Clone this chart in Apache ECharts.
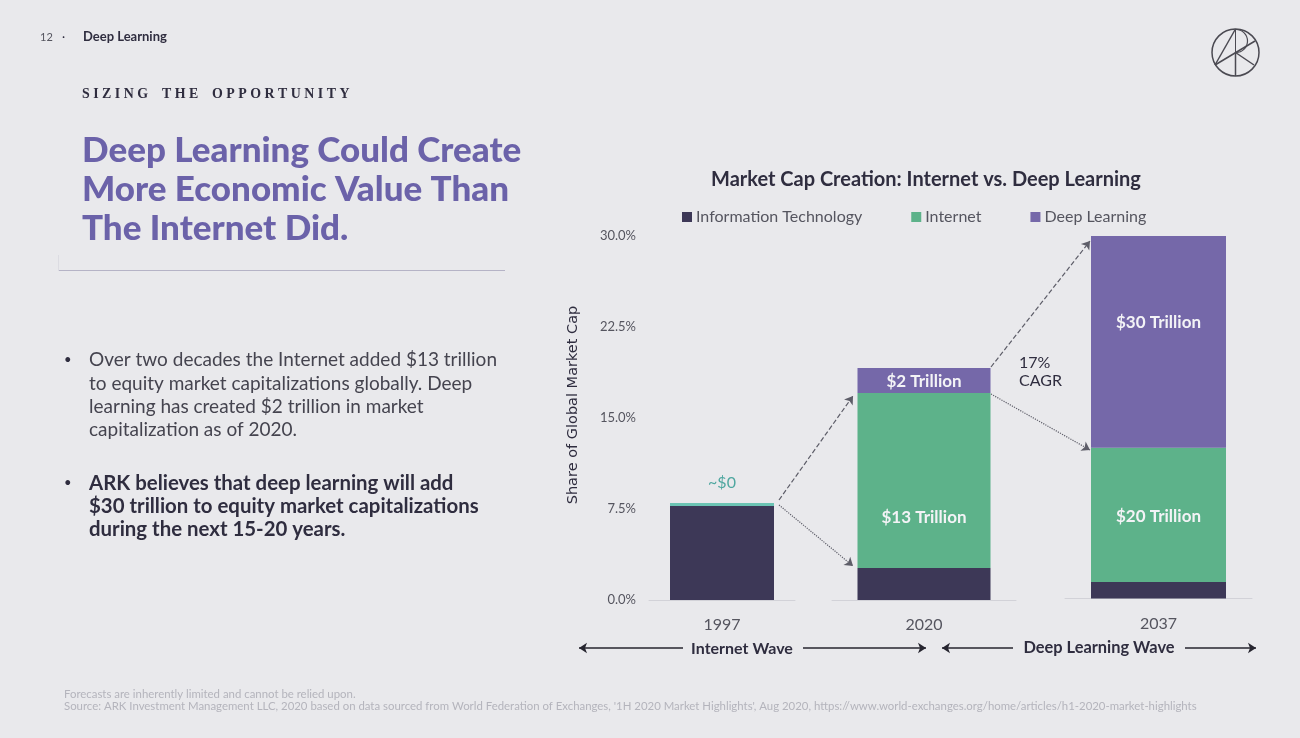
<!DOCTYPE html>
<html>
<head>
<meta charset="utf-8">
<title>Deep Learning</title>
<script src="https://cdn.jsdelivr.net/npm/echarts@6/dist/echarts.min.js"></script>
<style>
  html, body { margin: 0; padding: 0; background: #e9e9ec; }
  #chart { width: 1300px; height: 738px; }
</style>
</head>
<body>
<div id="chart"></div>
<script>
// chart values, share of global market cap (%)
const categories = ['1997', '2020', '2037']
const infoTech = [7.75, 2.64, 1.37]
const internet = [0.25, 14.42, 11.1]
const deepLearning = [0, 2.06, 17.54]
const internetLabels = ['~$0', '$13 Trillion', '$20 Trillion']
const deepLearningLabels = ['', '$2 Trillion', '$30 Trillion']
const yTicks = [0, 7.5, 15, 22.5, 30]

const font = 'Lato'
const colors = { it: '#3d3857', net: '#5db28a', dl: '#7568a9', thin: '#6cc4b4', ink: '#2f2d3f', grey: '#55555f' }

// one grid per column: the source has a different bar width and baseline for each
const grids = [
  { left: 649, width: 146, top: 236, height: 364 },
  { left: 832, width: 184, top: 236, height: 364 },
  { left: 1065, width: 187, top: 236, height: 362.5 }
]
const barWidths = [104, 133, 135]
const labelOffsets = { net: [null, [0, 37], [0, 2]], dl: [null, [0, 1], [0, -19]] }

function arrow(x1, y1, x2, y2, type, symbol) {
  return [
    { x: x1, y: y1, symbol: symbol[0], lineStyle: { type: type } },
    { x: x2, y: y2, symbol: symbol[1] }
  ]
}

const end = ['none', 'arrow']
const arrows = [
  arrow(779, 500, 853, 396, 'dashed', end),
  arrow(779, 505, 853, 566, 'dotted', end),
  arrow(991, 367, 1090, 241, 'dashed', end),
  arrow(991, 394, 1090, 450, 'dotted', end)
]
const waveArrows = [
  arrow(683, 648, 579, 648, 'solid', end),
  arrow(803, 648, 926, 648, 'solid', end),
  arrow(1013, 648, 942, 648, 'solid', end),
  arrow(1185, 648, 1256, 648, 'solid', end)
]

let xAxes = [], yAxes = [], series = []
categories.forEach((cat, i) => {
  xAxes.push({
    type: 'category',
    gridIndex: i,
    data: [cat],
    axisTick: { show: false },
    axisLine: { lineStyle: { color: '#d2d2d8', width: 1 } },
    axisLabel: { color: colors.grey, fontFamily: font, fontSize: 16, margin: 17 }
  })
  yAxes.push({
    type: 'value',
    gridIndex: i,
    min: yTicks[0],
    max: yTicks[yTicks.length - 1],
    interval: yTicks[1],
    show: i === 0,
    name: i === 0 ? 'Share of Global Market Cap' : '',
    nameLocation: 'middle',
    nameGap: 68,
    nameTextStyle: { color: colors.ink, fontFamily: 'DejaVu Sans', fontSize: 14.5, padding: [0, 0, 0, 26] },
    axisLine: { show: false },
    axisTick: { show: false },
    splitLine: { show: false },
    axisLabel: {
      color: colors.grey,
      fontFamily: font,
      fontSize: 13,
      margin: 13,
      formatter: v => v.toFixed(1) + '%'
    }
  })
  const barLabel = (text, offset, color) => ({
    show: !!text,
    formatter: text,
    position: 'inside',
    offset: offset || [0, 0],
    color: color || '#f3f3f6',
    fontFamily: font,
    fontSize: 17,
    fontWeight: 'bold'
  })
  series.push({
    name: 'Information Technology',
    type: 'bar',
    stack: 'col' + i,
    xAxisIndex: i,
    yAxisIndex: i,
    barWidth: barWidths[i],
    itemStyle: { color: colors.it },
    data: [infoTech[i]]
  })
  series.push({
    name: 'Internet',
    type: 'bar',
    stack: 'col' + i,
    xAxisIndex: i,
    yAxisIndex: i,
    barWidth: barWidths[i],
    itemStyle: { color: colors.net },
    data: [{
      value: internet[i],
      itemStyle: i === 0 ? { color: colors.thin } : undefined,
      label: i === 0
        ? { show: true, formatter: internetLabels[i], position: 'top', distance: 12, color: '#4fa7a0', fontFamily: font, fontSize: 16 }
        : barLabel(internetLabels[i], labelOffsets.net[i])
    }]
  })
  series.push({
    name: 'Deep Learning',
    type: 'bar',
    stack: 'col' + i,
    xAxisIndex: i,
    yAxisIndex: i,
    barWidth: barWidths[i],
    itemStyle: { color: colors.dl },
    clip: false,
    data: [{ value: deepLearning[i], label: barLabel(deepLearningLabels[i], labelOffsets.dl[i]) }],
    markLine: i !== 1 ? undefined : {
      silent: true,
      animation: false,
      symbolSize: 8,
      label: { show: false },
      lineStyle: { color: '#5d5d68', width: 1.2 },
      data: arrows
    }
  })
})

// wave arrows under the axis, on a series of their own
series.push({
  type: 'line',
  xAxisIndex: 0,
  yAxisIndex: 0,
  data: [],
  clip: false,
  markLine: {
    silent: true,
    animation: false,
    symbolSize: 8,
    label: { show: false },
    lineStyle: { color: '#26252f', width: 1.5 },
    data: waveArrows
  }
})

const text = (x, y, str, style) => ({
  type: 'text',
  x: x,
  y: y,
  silent: true,
  style: Object.assign({ text: str, fontFamily: font, fill: colors.ink, verticalAlign: 'middle' }, style)
})
const line = (x1, y1, x2, y2, stroke, width) => ({
  type: 'line',
  silent: true,
  shape: { x1: x1, y1: y1, x2: x2, y2: y2 },
  style: { stroke: stroke, lineWidth: width || 1 }
})

const headStyle = { fontSize: 35, fontWeight: 900, fill: '#6b62a9' }
const bodyStyle = { fontSize: 19, fill: '#45444f' }
const boldStyle = { fontSize: 20.4, fontWeight: 'bold' }
const footStyle = { fontSize: 11.4, fill: '#b4b4bc' }
const logoInk = '#4b4a52'
const graphic = [
  text(40, 37, '12', { fontSize: 11, fill: '#55555f' }),
  text(62, 37, '·', { fontSize: 12 }),
  text(83, 37, 'Deep Learning', { fontSize: 13, fontWeight: 'bold' }),
  text(82, 94, 'S\u2005I\u2005Z\u2005I\u2005N\u2005G\u2003T\u2005H\u2005E\u2003O\u2005P\u2005P\u2005O\u2005R\u2005T\u2005U\u2005N\u2005I\u2005T\u2005Y', { fontSize: 13.9, fontFamily: 'Liberation Serif', fontWeight: 'bold' }),
  text(82, 151, 'Deep Learning Could Create', headStyle),
  text(82, 190, 'More Economic Value Than', headStyle),
  text(82, 229, 'The Internet Did.', headStyle),
  line(58, 270.5, 505, 270.5, '#b5b3c6', 1),
  line(58.5, 255, 58.5, 271, '#dcdce2', 1),
  text(64, 360, '•', { fontSize: 13 }),
  text(89, 360, 'Over two decades the Internet added $13 trillion', bodyStyle),
  text(89, 384, 'to equity market capitalizations globally. Deep', bodyStyle),
  text(89, 407, 'learning has created $2 trillion in market', bodyStyle),
  text(89, 430, 'capitalization as of 2020.', bodyStyle),
  text(64, 483, '•', { fontSize: 13 }),
  text(89, 483, 'ARK believes that deep learning will add', boldStyle),
  text(89, 506, '$30 trillion to equity market capitalizations', boldStyle),
  text(89, 529, 'during the next 15-20 years.', boldStyle),
  text(1019, 363, '17%', { fontSize: 16 }),
  text(1019, 381, 'CAGR', { fontSize: 16 }),
  text(742, 649, 'Internet Wave', { fontSize: 16, fontWeight: 'bold', align: 'center' }),
  text(1099, 648, 'Deep Learning Wave', { fontSize: 16.4, fontWeight: 'bold', align: 'center' }),
  text(64, 694, 'Forecasts are inherently limited and cannot be relied upon.', footStyle),
  text(64, 706, 'Source: ARK Investment Management LLC, 2020 based on data sourced from World Federation of Exchanges, \'1H 2020 Market Highlights\', Aug 2020, https://www.world-exchanges.org/home/articles/h1-2020-market-highlights', footStyle),
  // logo
  { type: 'circle', silent: true, shape: { cx: 1235.5, cy: 52.5, r: 23.5 }, style: { fill: 'none', stroke: logoInk, lineWidth: 1.5 } },
  line(1235.5, 52.5, 1235.5, 76, logoInk, 1.5),
  line(1235.5, 29, 1215, 65, logoInk, 1.5),
  line(1215, 65, 1255, 41, logoInk, 1.5),
  line(1235.5, 52.5, 1254, 65, logoInk, 1.5),
  line(1235.5, 29, 1235.5, 52.5, logoInk, 1),
  { type: 'arc', silent: true, shape: { cx: 1236, cy: 41, r: 11.5, startAngle: -Math.PI / 2, endAngle: Math.PI / 2 }, style: { fill: 'none', stroke: logoInk, lineWidth: 1.2 } }
]

const myChart = echarts.init(document.getElementById('chart'), null, { renderer: 'canvas' })
myChart.setOption({
  animation: false,
  backgroundColor: '#e9e9ec',
  title: {
    text: 'Market Cap Creation: Internet vs. Deep Learning',
    left: 711,
    top: 170,
    padding: 0,
    textStyle: { color: colors.ink, fontFamily: font, fontSize: 20, fontWeight: 'bold' }
  },
  legend: {
    left: 682,
    top: 209,
    padding: 0,
    itemWidth: 10,
    itemHeight: 10,
    itemGap: 49,
    icon: 'rect',
    selectedMode: false,
    data: ['Information Technology', 'Internet', 'Deep Learning'],
    textStyle: { color: colors.grey, fontFamily: font, fontSize: 16, padding: [0, 0, 0, -1] }
  },
  grid: grids,
  xAxis: xAxes,
  yAxis: yAxes,
  series: series,
  graphic: graphic
})
</script>
</body>
</html>
